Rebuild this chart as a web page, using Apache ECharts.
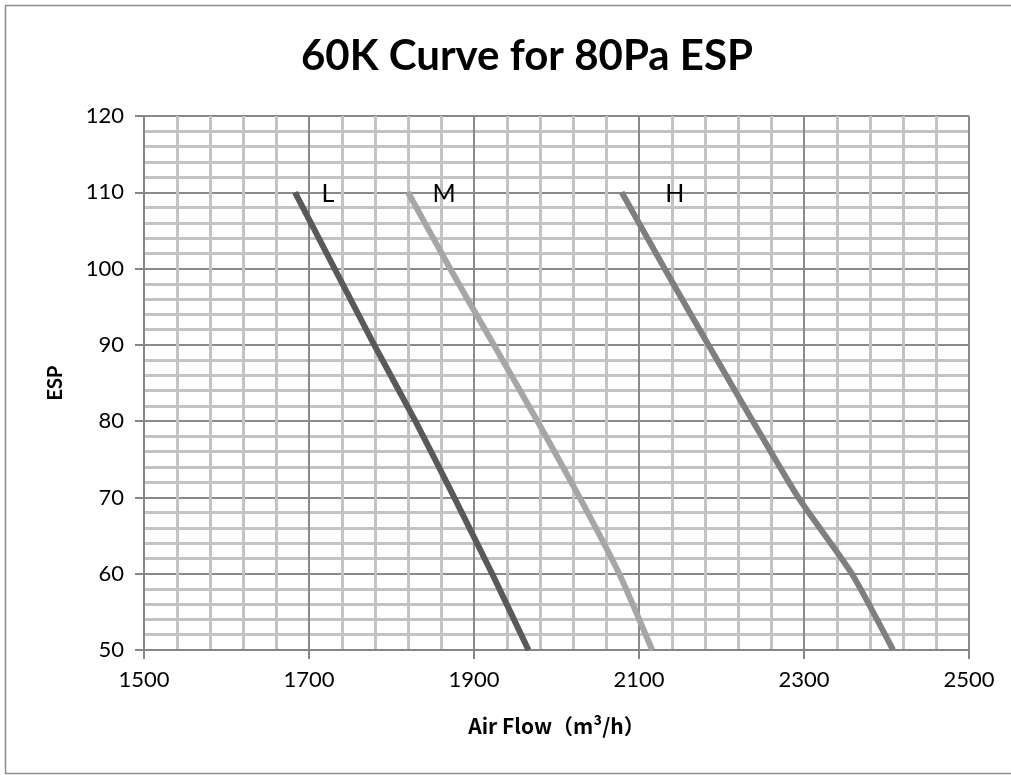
<!DOCTYPE html>
<html>
<head>
<meta charset="utf-8">
<script src="https://cdn.jsdelivr.net/npm/echarts@6/dist/echarts.min.js"></script>
<style>
  html, body { margin: 0; padding: 0; background: #fff; }
  #main { width: 1011px; height: 775px; }
</style>
</head>
<body>
<div id="main"></div>
<script>
  // ESP levels (Pa)
  const esp = [110, 100, 90, 80, 70, 60, 50]
  // air flow (m3/h) for each speed
  const flowL = [1683, 1731, 1779, 1829, 1876, 1922, 1966]
  const flowM = [1820, 1871, 1924, 1977, 2028, 2076, 2116]
  const flowH = [2079, 2131, 2184, 2238, 2293, 2358, 2408]
  const xTicks = [1500, 1700, 1900, 2100, 2300, 2500]
  const yTicks = [50, 60, 70, 80, 90, 100, 110, 120]

  const font = 'Lato, "Noto Sans", sans-serif'

  // curve name written next to the top point
  function lineSeries (name, flow, color, offset) {
    return {
      name: name,
      type: 'line',
      smooth: 0.2,
      symbol: 'circle',
      symbolSize: 1,
      showSymbol: true,
      itemStyle: { color: color },
      lineStyle: { color: color, width: 6, join: 'round', cap: 'butt' },
      label: {
        show: true,
        position: 'right',
        offset: offset,
        color: '#000',
        fontSize: 25,
        fontFamily: font,
        formatter: p => (p.dataIndex === 0 ? name : '')
      },
      data: flow.map((f, i) => [f, esp[i]])
    }
  }

  const chart = echarts.init(document.getElementById('main'))
  chart.setOption({
    animation: false,
    backgroundColor: '#fff',
    title: {
      text: '60K Curve for 80Pa ESP',
      left: 296,
      top: 30,
      textStyle: { fontSize: 42, fontWeight: 'bold', color: '#000', fontFamily: font }
    },
    graphic: [{
      type: 'rect',
      shape: { x: 5.5, y: 5.5, width: 1010, height: 768 },
      style: { fill: null, stroke: '#8c8c8c', lineWidth: 1.5 },
      silent: true
    }],
    grid: { left: 144, right: 42, top: 116, bottom: 125 },
    xAxis: {
      type: 'value',
      min: xTicks[0],
      max: xTicks[xTicks.length - 1],
      interval: 200,
      name: 'Air Flow（m³/h）',
      nameLocation: 'middle',
      nameGap: 66,
      nameTextStyle: { fontSize: 21, fontWeight: 'bold', color: '#000', fontFamily: '"Noto Sans CJK SC", Lato, sans-serif' },
      axisLine: { lineStyle: { color: '#868686', width: 2 } },
      axisTick: { show: true, length: 9, lineStyle: { color: '#868686', width: 2 } },
      axisLabel: { fontSize: 22, color: '#000', margin: 19, fontFamily: font, formatter: v => String(v) },
      splitLine: { show: true, lineStyle: { color: '#8a8a8a', width: 2 } },
      minorTick: { show: false, splitNumber: 5 },
      minorSplitLine: { show: true, lineStyle: { color: '#c3c3c3', width: 3 } }
    },
    yAxis: {
      type: 'value',
      min: yTicks[0],
      max: yTicks[yTicks.length - 1],
      interval: 10,
      name: 'ESP',
      nameLocation: 'middle',
      nameRotate: 90,
      nameGap: 78,
      nameTextStyle: { fontSize: 20, fontWeight: 'bold', color: '#000', fontFamily: font },
      axisLine: { show: true, lineStyle: { color: '#868686', width: 2 } },
      axisTick: { show: true, length: 9, lineStyle: { color: '#868686', width: 2 } },
      axisLabel: { fontSize: 22, color: '#000', margin: 20, fontFamily: font, formatter: v => String(v) },
      splitLine: { show: true, lineStyle: { color: '#8a8a8a', width: 2 } },
      minorTick: { show: false, splitNumber: 5 },
      minorSplitLine: { show: true, lineStyle: { color: '#c3c3c3', width: 3 } }
    },
    series: [
      lineSeries('L', flowL, '#595959', [21, 2]),
      lineSeries('M', flowM, '#a6a6a6', [19, 2]),
      lineSeries('H', flowH, '#7f7f7f', [38, 2])
    ]
  })
</script>
</body>
</html>
